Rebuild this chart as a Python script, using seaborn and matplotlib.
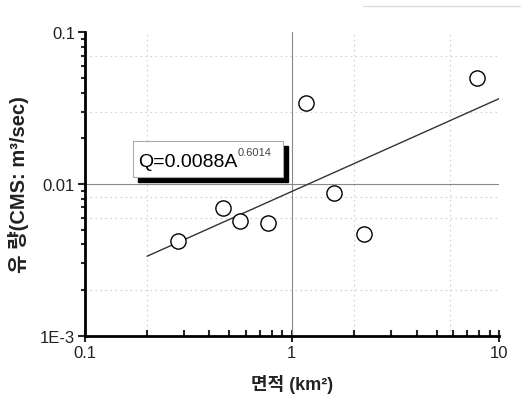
import matplotlib
matplotlib.use("Agg")
import matplotlib.pyplot as plt
import matplotlib.ticker as mticker
from matplotlib.patches import Rectangle
import seaborn as sns
import pandas as pd

# ---- data ----
area_km2 = [0.281, 0.466, 0.562, 0.767, 1.175, 1.603, 2.24, 7.85]
flow_cms = [0.00423, 0.00691, 0.00570, 0.00553, 0.0343, 0.00873, 0.00466, 0.0498]
fit_x = [0.2, 10.0]
fit_y = [0.00334, 0.0365]
x_ticks = [0.1, 1, 10]
x_tick_labels = ["0.1", "1", "10"]
y_ticks = [0.001, 0.01, 0.1]
y_tick_labels = ["1E-3", "0.01", "0.1"]
grid_x = [0.2, 2, 5.8]
grid_y = [0.002, 0.006, 0.0082, 0.03, 0.07]

pts = pd.DataFrame({"area": area_km2, "flow": flow_cms})
fit = pd.DataFrame({"area": fit_x, "flow": fit_y})

sns.set_theme(style="white")
plt.rcParams["font.family"] = ["Liberation Sans", "Noto Sans CJK KR", "DejaVu Sans"]

fig = plt.figure(figsize=(5.23, 4.02), dpi=100)
ax = fig.add_axes([84.7 / 523, (402 - 336.7) / 402, (499 - 84.7) / 523, (336.7 - 33.3) / 402])
ax.set_xscale("log")
ax.set_yscale("log")
ax.set_xlim(0.1, 10)
ax.set_ylim(0.001, 0.1)

for gx in grid_x:
    ax.axvline(gx, color="#d0d0d0", lw=0.8, ls=(0, (1.5, 3)), zorder=0)
for gy in grid_y:
    ax.axhline(gy, color="#d0d0d0", lw=0.8, ls=(0, (1.5, 3)), zorder=0)
ax.axvline(1, color="#888888", lw=0.8, zorder=1)
ax.axhline(0.01, color="#888888", lw=0.8, zorder=1)

sns.lineplot(data=fit, x="area", y="flow", ax=ax, color="#333333", lw=1.0, zorder=2)
sns.scatterplot(data=pts, x="area", y="flow", ax=ax, s=120, marker="o",
                facecolor="white", edgecolor="black", linewidth=1.0, zorder=3)

# equation box with shadow
bx0, bx1, by0, by1 = 0.1166, 0.4786, 0.523, 0.642
ax.add_patch(Rectangle((bx0 + 0.012, by0 - 0.017), bx1 - bx0, by1 - by0,
                       transform=ax.transAxes, facecolor="black", edgecolor="black", zorder=4))
ax.add_patch(Rectangle((bx0, by0), bx1 - bx0, by1 - by0, transform=ax.transAxes,
                       facecolor="white", edgecolor="#aaaaaa", lw=0.8, zorder=5))
ax.text(bx0 + 0.012, by0 + 0.035, "Q=0.0088A", transform=ax.transAxes,
        fontsize=14, color="black", zorder=6, va="baseline")
ax.text(0.368, 0.594, "0.6014", transform=ax.transAxes,
        fontsize=8, color="#444444", zorder=6, va="baseline")

ax.set_xticks(x_ticks)
ax.set_xticklabels(x_tick_labels)
ax.set_yticks(y_ticks)
ax.set_yticklabels(y_tick_labels)
ax.xaxis.set_minor_locator(mticker.LogLocator(base=10, subs=range(2, 10)))
ax.yaxis.set_minor_locator(mticker.LogLocator(base=10, subs=range(2, 10)))
ax.xaxis.set_minor_formatter(mticker.NullFormatter())
ax.yaxis.set_minor_formatter(mticker.NullFormatter())
ax.tick_params(axis="x", which="major", direction="inout", length=8, width=1.5, labelsize=12, pad=3,
               bottom=True, labelcolor="#222222")
ax.tick_params(axis="x", which="minor", direction="in", length=4, width=1.5, bottom=True)
ax.tick_params(axis="y", which="major", direction="out", length=5, width=1.5, labelsize=12, pad=2,
               left=True, labelcolor="#222222")
ax.tick_params(axis="y", which="minor", direction="out", length=3, width=1.5, left=True)

for s in ["top", "right"]:
    ax.spines[s].set_visible(False)
for s in ["left", "bottom"]:
    ax.spines[s].set_color("black")
    ax.spines[s].set_linewidth(2)

ax.set_xlabel("면적 (km²)", fontsize=13, fontweight="bold", labelpad=10, color="#222222")
ax.set_ylabel("유 량(CMS: m³/sec)", fontsize=14.5, fontweight="bold", labelpad=8, color="#222222")

fig.lines.append(plt.Line2D([363 / 523, 520 / 523], [1 - 7 / 402, 1 - 7 / 402],
                            transform=fig.transFigure, color="#dddddd", lw=1.0))

fig.savefig("out.png", dpi=100, facecolor="white")
